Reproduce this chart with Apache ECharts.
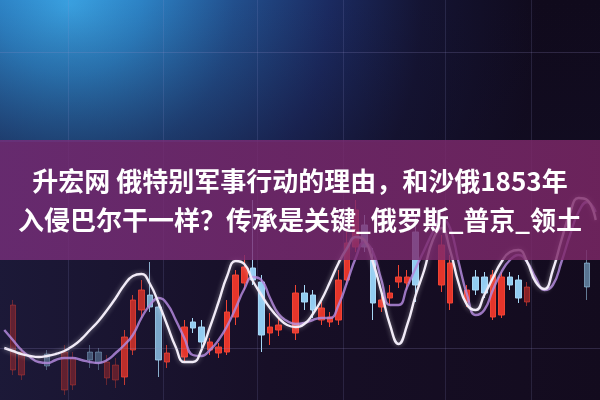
<!DOCTYPE html>
<html>
<head>
<meta charset="utf-8">
<script src="https://cdn.jsdelivr.net/npm/echarts@6/dist/echarts.min.js"></script>
<style>
html,body{margin:0;padding:0;background:rgb(21,14,35);}
#c{width:600px;height:400px;}
</style>
</head>
<body>
<div id="c"></div>
<script>
// ---- data ----
const headline1 = '升宏网 俄特别军事行动的理由，和沙俄1853年';
const headline2 = '入侵巴尔干一样？传承是关键_俄罗斯_普京_领土';

const categories = Array.from({length: 70}, (_, i) => 'K' + (i + 1));

// candle values [index-aligned]; null = no visible candle
const openV  = [null,30,25,null,null,46,null,10,15,null,48,48,22,20,23,50,90,105,93,38,null,43,78,73,50,47,48,83,117,132,118,67,70,null,67,107,105,80,78,80,120,153,175,140,93,102,118,117,168,null,null,115,97,null,98,123,123,83,85,123,120,98,null,null,null,null,null,null,137,null];
const closeV = [null,95,48,null,null,34,null,48,42,null,40,37,38,35,63,100,110,93,40,47,null,73,72,58,58,53,88,125,133,120,65,73,75,null,107,98,90,92,83,120,157,190,153,97,100,107,123,123,115,null,null,155,137,null,110,110,107,125,123,115,102,113,null,null,null,null,null,null,113,null];
const lowV   = [null,25,20,null,null,30,null,5,10,null,32,30,15,12,15,45,82,88,23,32,null,38,67,50,45,42,45,75,110,115,48,55,64,null,60,90,82,75,73,75,115,148,148,80,88,95,112,110,98,null,null,108,90,null,93,105,102,80,82,110,97,94,null,null,null,null,null,null,100,null];
const highV  = [null,100,52,null,null,50,null,55,48,null,55,52,45,42,70,105,120,138,100,55,null,80,82,80,62,57,100,130,145,200,125,87,82,null,115,115,110,98,88,130,170,200,185,152,105,115,135,130,185,null,null,165,145,null,115,130,128,130,128,128,125,118,null,null,null,null,null,null,150,null];

// fast (white) and slow (lilac) average lines
const fastLine = [52,49,46,44,43,44,46,49,54,61,70,79,90,102,115,124,126,116,97,75,53,38,38,50,73,98,124,139,136,119,105,92,82,75,73,76,86,100,118,137,152,163,160,138,108,75,56,75,105,130,160,172,150,117,95,90,105,122,138,148,150,138,118,111,130,160,187,202,200,180];
const slowLine = [70,60,50,43,38,37,40,42,42,40,38,37,40,47,55,65,82,95,102,96,80,62,45,44,50,60,74,92,111,123,120,102,86,79,76,77,80,82,82,95,118,142,158,148,120,95,95,113,132,150,168,182,172,138,105,85,90,110,128,140,145,138,122,110,115,138,165,188,198,188];

const guideLevels = [52, 348];
const gridBreaks = [8, 19, 30, 40, 52, 62];

// ---- build ----
function fadeFor(i) {
  if (i < 14) return 0.35;
  if (i <= 20) return 0.8;
  if (i >= 61) return 0.55;
  return 1;
}
const candleData = categories.map((c, i) => {
  if (openV[i] == null) return '-';
  return {
    value: [openV[i], closeV[i], lowV[i], highV[i]],
    itemStyle: { opacity: fadeFor(i) }
  };
});

const chart = echarts.init(document.getElementById('c'), null, {renderer: 'canvas'});
chart.setOption({
  animation: false,
  backgroundColor: 'rgba(21,14,35,0.99)',
  grid: {show: false, left: 0, right: 0, top: 0, bottom: 0},
  xAxis: {
    type: 'category',
    data: categories,
    boundaryGap: true,
    axisLine: {show: false}, axisTick: {show: false}, axisLabel: {show: false},
    splitLine: {
      show: true,
      interval: (idx) => gridBreaks.indexOf(idx) >= 0,
      lineStyle: {color: 'rgba(150,150,210,0.16)', width: 1}
    }
  },
  yAxis: {
    type: 'value', min: 0, max: 400,
    axisLine: {show: false}, axisTick: {show: false}, axisLabel: {show: false},
    splitLine: {show: false}
  },
  graphic: {
    elements: [
      {
        type: 'rect', z: -1, silent: true,
        shape: {x: 0, y: 0, width: 600, height: 400},
        style: {fill: new echarts.graphic.LinearGradient(0, 0, 1, 0, [
          {offset: 0, color: 'rgba(28,25,56,0.99)'},
          {offset: 0.45, color: 'rgba(23,15,39,0.99)'},
          {offset: 1, color: 'rgba(19,11,30,0.99)'}
        ])}
      },
      {
        type: 'rect', z: -1, silent: true,
        shape: {x: 0, y: 0, width: 600, height: 142},
        style: {fill: new echarts.graphic.RadialGradient(70, 5, 470, [
            {offset: 0, color: 'rgba(58,162,226,0.99)'},
            {offset: 0.15, color: 'rgba(45,132,199,0.99)'},
            {offset: 0.35, color: 'rgba(34,80,142,0.99)'},
            {offset: 0.55, color: 'rgba(27,43,98,0.99)'},
            {offset: 0.75, color: 'rgba(20,20,51,0.99)'},
            {offset: 1, color: 'rgba(16,10,28,0.99)'}
          ], true)}
      },
      {
        type: 'rect', z: -1, silent: true,
        shape: {x: 0, y: 0, width: 600, height: 142},
        style: {fill: new echarts.graphic.LinearGradient(0, 0, 0, 1, [
          {offset: 0, color: 'rgba(20,15,40,0)'},
          {offset: 1, color: 'rgba(20,15,40,0.35)'}
        ])}
      },
      {
        type: 'rect', z: 100, silent: true,
        shape: {x: 0, y: 140, width: 600, height: 120},
        style: {fill: new echarts.graphic.LinearGradient(0, 0, 1, 0, [
          {offset: 0, color: 'rgba(118,46,122,0.82)'},
          {offset: 1, color: 'rgba(126,40,104,0.82)'}
        ])}
      },
      {
        type: 'text', z: 110, silent: true,
        style: {
          text: headline1, x: 300, y: 181, align: 'center', verticalAlign: 'middle',
          fill: '#ffffff', fontSize: 26, fontWeight: 'bold', fontFamily: '"Noto Sans CJK SC"'
        }
      },
      {
        type: 'text', z: 110, silent: true,
        style: {
          text: headline2, x: 300, y: 220, align: 'center', verticalAlign: 'middle',
          fill: '#ffffff', fontSize: 26, fontWeight: 'bold', fontFamily: '"Noto Sans CJK SC"'
        }
      }
    ]
  },
  series: [
    {
      type: 'candlestick',
      data: candleData,
      barWidth: 6,
      itemStyle: {
        color: '#e5352b', color0: '#92ccf1',
        borderColor: '#f04434', borderColor0: '#a6d7f5', borderWidth: 1
      },
      markLine: {
        silent: true, symbol: 'none', label: {show: false},
        lineStyle: {color: 'rgba(150,140,200,0.22)', width: 1, type: 'solid'},
        data: guideLevels.map(v => ({yAxis: v}))
      }
    },
    {
      type: 'line', data: slowLine, smooth: 0.5, symbol: 'none', z: 3,
      lineStyle: {color: '#b187dc', width: 2.4, opacity: 0.85}
    },
    {
      type: 'line', data: fastLine, smooth: 0.5, symbol: 'none', z: 4,
      lineStyle: {color: '#f1ebf7', width: 2.4, shadowBlur: 5, shadowColor: 'rgba(255,255,255,0.45)'}
    }
  ]
});
</script>
</body>
</html>
